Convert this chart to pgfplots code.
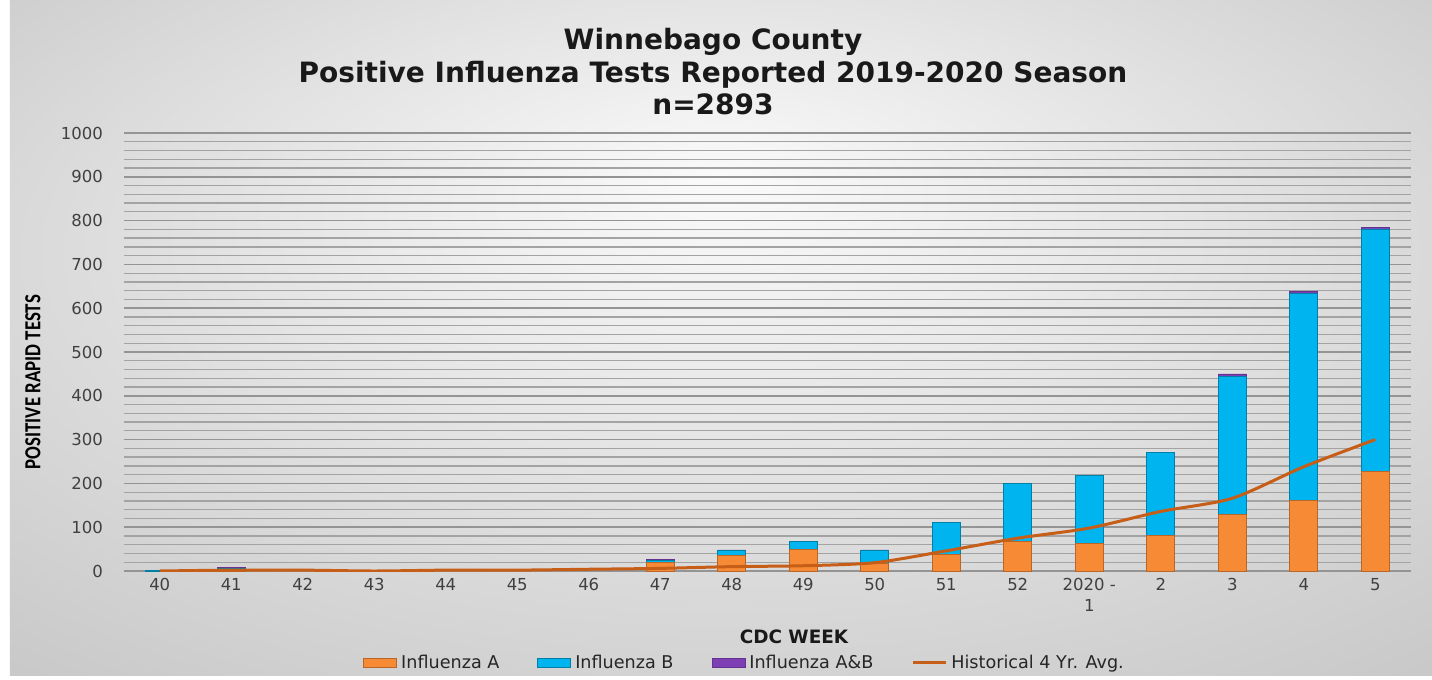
\documentclass[border=0pt]{standalone}
\usepackage{pgfplots}
\pgfplotsset{compat=1.18}
\usepackage{graphicx}
\usepackage{fontspec}
\setmainfont{DejaVu Sans}
\newfontfamily\carlito{Carlito}
\definecolor{fluA}{HTML}{F68A35}
\definecolor{fluB}{HTML}{00B5EF}
\definecolor{fluAB}{HTML}{7E3FB5}
\definecolor{histc}{HTML}{C65E18}
\definecolor{tickgray}{HTML}{404040}
\definecolor{bgin}{HTML}{FAFAFA}
\definecolor{bgout}{HTML}{B8B8B8}
\pgfdeclareradialshading{bgshade}{\pgfpoint{0bp}{12bp}}{color(0bp)=(bgin); color(50bp)=(bgout)}

\pgfplotstableread{
x A B AB H
0 0 2 0 0
1 3 3 2 2
2 0 0 0 2
3 0 0 0 0
4 0 0 0 2
5 0 0 0 2
6 0 0 0 4
7 19 6 1 6
8 36 10 2 10
9 50 17 0 12
10 18 28 2 19
11 38 73 0 46
12 67 132 0 75
13 62 157 0 98
14 81 189 0 136
15 130 315 5 166
16 162 472 5 238
17 228 553 3 300
}\flu

\pgfplotsset{base/.style={
  scale only axis, width=643.5pt, height=219pt,
  xmin=-0.5, xmax=17.5, ymin=0, ymax=1000,
}}

\begin{document}
\begin{tikzpicture}
\fill[white] (-62pt,-52pt) rectangle (654pt,285.5pt);
\shade[shading=bgshade] (-57pt,-52pt) rectangle (654pt,285.5pt);

\begin{axis}[base,
  ybar stacked, bar width=14pt,
  axis line style={draw=none},
  tick style={draw=none},
  ytick={0,100,...,1000}, minor y tick num=4,
  ymajorgrids, yminorgrids,
  major grid style={draw=black!42, line width=0.75pt},
  minor grid style={draw=black!36, line width=0.65pt},
  xtick={0,...,17},
  xticklabels={40,41,42,43,44,45,46,47,48,49,50,51,52,{2020 -\\1},2,3,4,5},
  /pgf/number format/assume math mode=true,
  xticklabel style={align=center, font=\fontsize{8.25}{10.5}\selectfont, text=tickgray},
  yticklabel style={font=\fontsize{8.25}{10}\selectfont, text=tickgray, xshift=-7pt},
  /pgf/number format/1000 sep={},
]
\addplot[fill=fluA, draw=fluA!75!black, line width=0.4pt] table[x=x,y=A]{\flu};
\addplot[fill=fluB, draw=fluB!70!black, line width=0.4pt] table[x=x,y=B]{\flu};
\addplot[fill=fluAB, draw=fluAB!80!black, line width=0.4pt] table[x=x,y=AB]{\flu};
\end{axis}

\begin{axis}[base, hide axis,
  legend columns=4,
  legend style={at={(axis description cs:0.483,-0.21)}, anchor=center, draw=none, fill=none,
    font=\fontsize{8.8}{10}\selectfont, text=black!85,
    /tikz/every even column/.append style={column sep=17pt}},
]
\addlegendimage{legend image code/.code={\filldraw[fill=fluA, draw=fluA!75!black, line width=0.4pt] (0pt,-2.2pt) rectangle (16.5pt,2.2pt);}}
\addlegendentry{Influenza A}
\addlegendimage{legend image code/.code={\filldraw[fill=fluB, draw=fluB!70!black, line width=0.4pt] (0pt,-2.2pt) rectangle (16.5pt,2.2pt);}}
\addlegendentry{Influenza B}
\addlegendimage{legend image code/.code={\filldraw[fill=fluAB, draw=fluAB!80!black, line width=0.4pt] (0pt,-2.2pt) rectangle (16.5pt,2.2pt);}}
\addlegendentry{Influenza A\&B}
\addplot[draw=histc, line width=1.5pt, smooth, tension=0.45, mark=none,
  legend image code/.code={\draw[histc, line width=1.5pt] (0pt,0pt) -- (16.5pt,0pt);}]
  table[x=x,y=H]{\flu};
\addlegendentry{Historical 4 Yr. Avg.}
\end{axis}

\node[font=\bfseries\fontsize{14}{16}\selectfont, text=black!90] at (294.5pt,264.5pt) {Winnebago County};
\node[font=\bfseries\fontsize{14}{16}\selectfont, text=black!90] at (294.5pt,248pt) {Positive Influenza Tests Reported 2019-2020 Season};
\node[font=\bfseries\fontsize{14}{16}\selectfont, text=black!90] at (294.5pt,233.5pt) {n=2893};
\node[rotate=90, text=black] at (-45.5pt,94.5pt) {\carlito\bfseries\fontsize{11.5}{12}\selectfont\scalebox{0.82}[1]{POSITIVE RAPID TESTS}};
\node[font=\bfseries\fontsize{9.2}{11}\selectfont, text=black!90] at (335pt,-33pt) {CDC WEEK};
\end{tikzpicture}
\end{document}
